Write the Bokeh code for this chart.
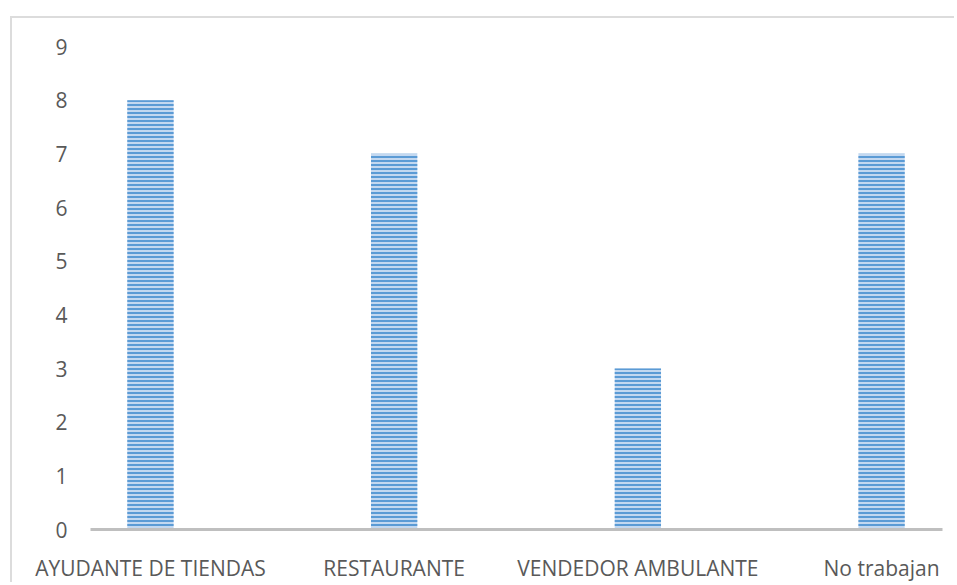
from bokeh.plotting import figure
from bokeh.models import FixedTicker, Range1d
from bokeh.embed import file_html
from bokeh.resources import INLINE

categories = ["AYUDANTE DE TIENDAS", "RESTAURANTE", "VENDEDOR AMBULANTE", "No trabajan"]
values = [8, 7, 3, 7]
y_ticks = [0, 1, 2, 3, 4, 5, 6, 7, 8, 9]

xs = list(range(len(categories)))

FONT = "Open Sans"
TXT = "#595959"

p = figure(width=944, height=566, output_backend="svg", toolbar_location=None,
           x_range=Range1d(-0.246, 3.25), y_range=Range1d(0, 9),
           min_border_left=78, min_border_right=14, min_border_top=28, min_border_bottom=54)
p.margin = (16, 0, 0, 10)
p.styles = {"border-top": "2px solid #dcdcdc", "border-left": "2px solid #dcdcdc"}

p.vbar(x=xs, top=values, width=0.19, bottom=0,
       fill_color="#c3d8f0", line_color=None,
       hatch_pattern="horizontal_line", hatch_color="#5b9bd5",
       hatch_scale=4, hatch_weight=2)

p.outline_line_color = None
p.xgrid.visible = False
p.ygrid.visible = False

p.xaxis.ticker = FixedTicker(ticks=xs)
p.xaxis.major_label_overrides = {i: c for i, c in enumerate(categories)}
p.xaxis.axis_line_color = "#bfbfbf"
p.xaxis.axis_line_width = 3
p.xaxis.major_tick_line_color = None
p.xaxis.minor_tick_line_color = None
p.xaxis.major_label_standoff = 18
p.xaxis.major_label_text_font = FONT
p.xaxis.major_label_text_font_size = "21px"
p.xaxis.major_label_text_color = TXT

p.yaxis.ticker = FixedTicker(ticks=y_ticks)
p.yaxis.axis_line_color = None
p.yaxis.major_tick_line_color = None
p.yaxis.minor_tick_line_color = None
p.yaxis.major_tick_out = 0
p.yaxis.major_label_standoff = 23
p.yaxis.major_label_text_font = FONT
p.yaxis.major_label_text_font_size = "21px"
p.yaxis.major_label_text_color = TXT

p.background_fill_color = "white"
p.border_fill_color = "white"

open("out.html", "w").write(file_html(p, INLINE))
